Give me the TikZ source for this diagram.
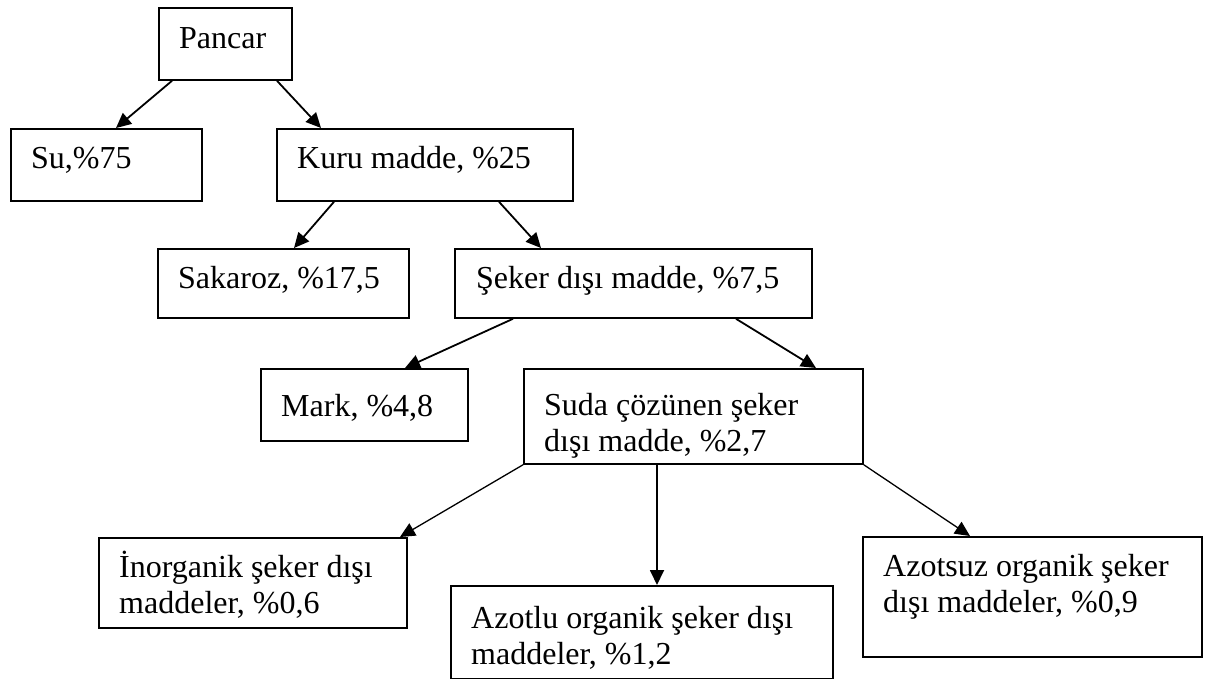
\documentclass[tikz,border=0pt]{standalone}
\usepackage{fontspec}
\setmainfont{Liberation Serif}
\usetikzlibrary{arrows.meta,calc}
\newcommand\tstrut{\rule{0pt}{30pt}}
\begin{document}
\begin{tikzpicture}[x=1pt,y=-1pt,
  box/.style={draw=black, line width=1.8pt, rectangle, anchor=north west, inner sep=0pt},
  lbl/.style={anchor=north west, inner sep=0pt, align=left, font=\fontsize{32}{36}\selectfont},
  arr/.style={draw=black, line width=1.8pt, -{Triangle[length=15pt,width=14pt]}},
  thinarr/.style={arr, line width=1.3pt}]
\useasboundingbox (0,0) rectangle (1205,679);
% boxes
\node[box, minimum width=133pt, minimum height=72pt] (pancar) at (158,7) {};
\node[box, minimum width=191pt, minimum height=72pt] (su) at (10,128) {};
\node[box, minimum width=296pt, minimum height=72pt] (kuru) at (276,128) {};
\node[box, minimum width=251pt, minimum height=69pt] (sakaroz) at (157,248) {};
\node[box, minimum width=357pt, minimum height=69pt] (seker) at (454,248) {};
\node[box, minimum width=207pt, minimum height=72pt] (mark) at (260,368) {};
\node[box, minimum width=339pt, minimum height=95pt] (suda) at (523,368) {};
\node[box, minimum width=308pt, minimum height=90pt] (ino) at (98,537) {};
\node[box, minimum width=382pt, minimum height=93pt] (azotlu) at (450,585) {};
\node[box, minimum width=339pt, minimum height=120pt] (azotsuz) at (862,536) {};
% labels
\node[lbl] (pancar-t) at ($(pancar.north west)+(21,11)$) {\tstrut Pancar};
\node[lbl] (su-t) at ($(su.north west)+(21,10)$) {\tstrut Su,\%75};
\node[lbl] (kuru-t) at ($(kuru.north west)+(21,10)$) {\tstrut Kuru madde, \%25};
\node[lbl] (sakaroz-t) at ($(sakaroz.north west)+(21,10)$) {\tstrut Sakaroz, \%17,5};
\node[lbl] (seker-t) at ($(seker.north west)+(22,10)$) {\tstrut Şeker dışı madde, \%7,5};
\node[lbl] (mark-t) at ($(mark.north west)+(21,18)$) {\tstrut Mark, \%4,8};
\node[lbl] (suda-t) at ($(suda.north west)+(21,17)$) {\tstrut Suda çözünen şeker\\dışı madde, \%2,7};
\node[lbl] (ino-t) at ($(ino.north west)+(21,10)$) {\tstrut İnorganik şeker dışı\\maddeler, \%0,6};
\node[lbl] (azotlu-t) at ($(azotlu.north west)+(21,13)$) {\tstrut Azotlu organik şeker dışı\\maddeler, \%1,2};
\node[lbl] (azotsuz-t) at ($(azotsuz.north west)+(21,10)$) {\tstrut Azotsuz organik şeker\\dışı maddeler, \%0,9};
% connectors
\draw[arr] ($(pancar.south west)+(14,0)$) -- ($(su.north west)+(106,0)$);
\draw[arr] ($(pancar.south west)+(119,0)$) -- ($(kuru.north west)+(45,0)$);
\draw[arr] ($(kuru.south west)+(58,0)$) -- ($(sakaroz.north west)+(137,0)$);
\draw[arr] ($(kuru.south west)+(223,0)$) -- ($(seker.north west)+(87,0)$);
\draw[arr] ($(seker.south west)+(59,0)$) -- ($(mark.north west)+(145,0)$);
\draw[arr] ($(seker.south west)+(282,0)$) -- ($(suda.north west)+(293,0)$);
\draw[thinarr] (suda.south west) -- ($(ino.north west)+(302,0)$);
\draw[arr] ($(suda.south west)+(134,0)$) -- ($(azotlu.north west)+(207,0)$);
\draw[thinarr] (suda.south east) -- ($(azotsuz.north west)+(108,0)$);
\end{tikzpicture}
\end{document}
